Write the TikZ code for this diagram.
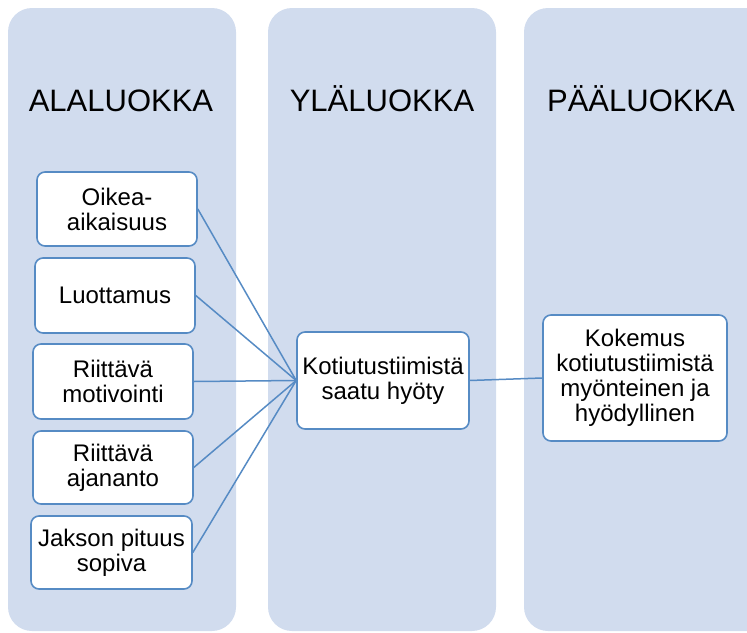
\documentclass[tikz,border=0pt]{standalone}
\usepackage{fontspec}
\setmainfont{Liberation Sans}
\definecolor{lanefill}{RGB}{209,220,238}
\definecolor{accent}{RGB}{86,139,196}
\begin{document}
\begin{tikzpicture}[x=1pt,y=-1pt,
  lane/.style={fill=lanefill,draw=none,rounded corners=24pt},
  heading/.style={font=\fontsize{31}{36}\selectfont,anchor=base},
  item/.style={draw=accent,line width=1.6pt,fill=white,rounded corners=8pt,
    align=center,inner sep=0pt,font=\fontsize{24}{25}\selectfont},
  link/.style={draw=accent,line width=1.5pt}]
\useasboundingbox (0,0) rectangle (747,632);
\clip (0,0) rectangle (747,632);
% three lanes
\fill[lane] (8,8) rectangle (236,631);
\fill[lane] (268,8) rectangle (496,631);
\fill[lane] (524,8) rectangle (780,631);
% lane headings
\node[heading] (h1) at (121,111) {ALALUOKKA};
\node[heading] (h2) at (382,111) {YLÄLUOKKA};
\node[heading] (h3) at (641,111) {PÄÄLUOKKA};
% subcategories
\node[item,minimum width=160pt,minimum height=74pt] (a1) at (117,209) {Oikea-\\aikaisuus};
\node[item,minimum width=160pt,minimum height=75pt] (a2) at (115,295.5) {Luottamus};
\node[item,minimum width=160pt,minimum height=75pt] (a3) at (113,381.5) {Riittävä\\motivointi};
\node[item,minimum width=160pt,minimum height=73pt] (a4) at (113,467.5) {Riittävä\\ajananto};
\node[item,minimum width=161pt,minimum height=73pt] (a5) at (111.5,552.5) {Jakson pituus\\sopiva};
% upper category
\node[item,minimum width=172pt,minimum height=97pt] (b) at (383,380.5) {Kotiutustiimistä\\saatu hyöty};
% main category
\node[item,minimum width=184pt,minimum height=126pt] (c) at (635,378) {Kokemus\\kotiutustiimistä\\myönteinen ja\\hyödyllinen};
% connectors
\foreach \n in {a1,a2,a3,a4,a5}
  \draw[link] (\n.east) -- (b.west);
\draw[link] (b.east) -- (c.west);
\end{tikzpicture}
\end{document}
